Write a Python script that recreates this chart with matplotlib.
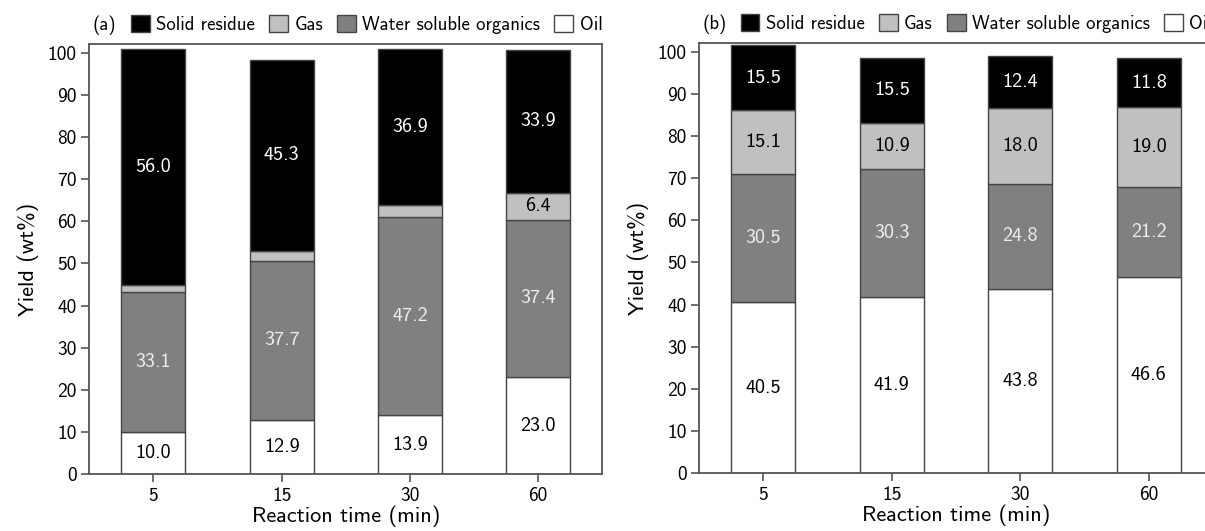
import matplotlib
matplotlib.use("Agg")
import matplotlib.pyplot as plt
from matplotlib.patches import Patch
import numpy as np

plt.rcParams['font.family'] = ['cmss10', 'DejaVu Sans']
plt.rcParams['axes.unicode_minus'] = False

times = ['5', '15', '30', '60']
components = ['Solid residue', 'Gas', 'Water soluble organics', 'Oil']

# panel (a)
oil_a = [10.0, 12.9, 13.9, 23.0]
wso_a = [33.1, 37.7, 47.2, 37.4]
gas_a = [1.8, 2.4, 2.8, 6.4]
solid_a = [56.0, 45.3, 36.9, 33.9]

# panel (b)
oil_b = [40.5, 41.9, 43.8, 46.6]
wso_b = [30.5, 30.3, 24.8, 21.2]
gas_b = [15.1, 10.9, 18.0, 19.0]
solid_b = [15.5, 15.5, 12.4, 11.8]

fills = {'Solid residue': 'black', 'Gas': '#c0c0c0',
         'Water soluble organics': '#808080', 'Oil': 'white'}
text_col = {'Solid residue': 'white', 'Gas': 'black',
            'Water soluble organics': '#eeeeee', 'Oil': 'black'}
edge = '#444444'
spine_col = '#555555'


def draw_panel(ax, tag, oil, wso, gas, solid):
    x = np.arange(len(times))
    bottom = np.zeros(len(times))
    # stack from the bottom: oil, wso, gas, solid
    for name, vals in [('Oil', oil), ('Water soluble organics', wso),
                       ('Gas', gas), ('Solid residue', solid)]:
        vals = np.array(vals)
        ax.bar(x, vals, width=0.5, bottom=bottom, color=fills[name],
               edgecolor=edge, linewidth=1.0, zorder=2)
        for xi, b, v in zip(x, bottom, vals):
            if v >= 5:
                ax.text(xi, b + v / 2, '%.1f' % v, ha='center', va='center',
                        fontsize=14.5, color=text_col[name], zorder=3)
        bottom += vals

    ax.set_xlim(-0.5, 3.5)
    ax.set_ylim(0, 102)
    ax.set_yticks(range(0, 101, 10))
    ax.set_xticks(x)
    ax.set_xticklabels(times)
    ax.set_xlabel('Reaction time (min)', fontsize=16, labelpad=1)
    ax.set_ylabel('Yield (wt%)', fontsize=16, labelpad=6)
    ax.tick_params(axis='both', labelsize=14, length=6, width=1.2,
                   color=spine_col, pad=3)
    for s in ax.spines.values():
        s.set_color(spine_col)
        s.set_linewidth(1.3)

    handles = [Patch(facecolor=fills[c], edgecolor=edge, linewidth=1.0)
               for c in components]
    ax.text(0.007, 1.022, tag, transform=ax.transAxes, fontsize=13.5,
            ha='left', va='bottom')
    ax.legend(handles, components, loc='lower left',
              bbox_to_anchor=(0.081, 1.024), ncol=4, frameon=False,
              fontsize=13.5, handlelength=1.0, handleheight=1.0,
              handletextpad=0.35, columnspacing=0.75, borderpad=0,
              borderaxespad=0)


fig = plt.figure(figsize=(12.05, 5.31), dpi=100)
ax1 = fig.add_axes([0.0741, 0.1073, 0.4257, 0.8092])
ax2 = fig.add_axes([0.5801, 0.1092, 0.4266, 0.8092])

draw_panel(ax1, '(a)', oil_a, wso_a, gas_a, solid_a)
draw_panel(ax2, '(b)', oil_b, wso_b, gas_b, solid_b)

fig.savefig('out.png', dpi=100)
